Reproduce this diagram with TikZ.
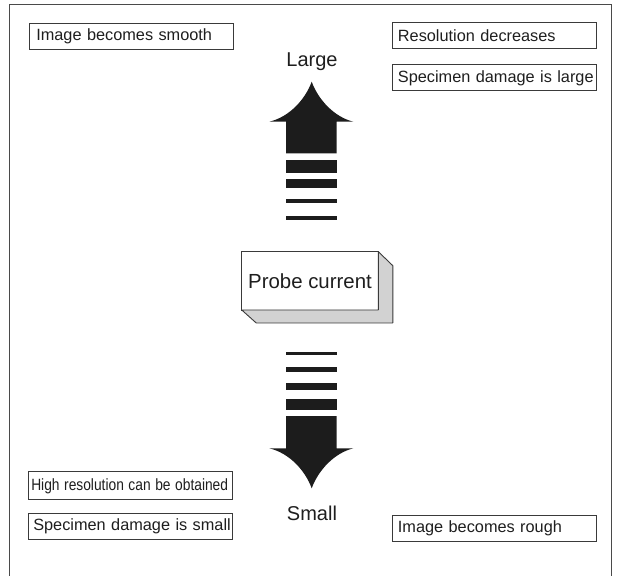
\documentclass[tikz,border=0pt]{standalone}
\usepackage{fontspec}
\setmainfont{Liberation Sans}
\definecolor{txtcol}{HTML}{1E1E1E}
\definecolor{boxcol}{HTML}{3A3A3A}
\definecolor{framecol}{HTML}{4A4A4A}
\definecolor{arrcol}{HTML}{1C1C1C}
\definecolor{shadecol}{HTML}{D2D2D2}
\tikzset{
  tbox/.style={draw=boxcol, line width=0.9pt, minimum width=204pt, minimum height=26pt,
    inner xsep=7pt, text width=190pt, align=left, outer sep=0pt,
    font=\fontsize{16.3}{18}\selectfont, text=txtcol},
  bigtext/.style={font=\fontsize{20}{22}\selectfont, text=txtcol, inner sep=0pt},
  probebox/.style={draw=boxcol, line width=0.9pt, fill=white, minimum width=136.6pt,
    minimum height=58.3pt, outer sep=0pt, font=\fontsize{20.4}{22}\selectfont, text=txtcol},
  shadebox/.style={draw=boxcol, line width=0.9pt, fill=shadecol, line join=round},
  arrowfill/.style={fill=arrcol, draw=none},
  framestyle/.style={draw=framecol, line width=1pt},
}
\begin{document}
\begin{tikzpicture}[x=1pt,y=-1pt]
\useasboundingbox (0,0) rectangle (619,576);
% outer frame (open at bottom)
\draw[framestyle] (9.3,577) -- (9.3,4.5) -- (611,4.5) -- (611,577);

% text boxes
\node[tbox] (smooth) at (131.3,36.7) {\mbox{Image becomes smooth}};
\node[tbox, inner xsep=6pt, text width=192.7pt] (resdec) at (494.3,35.8) {\mbox{Resolution decreases}};
\node[tbox, inner xsep=6pt, text width=192.7pt] (damlarge) at (494.3,77.8) {\mbox{Specimen damage is large}};
\node[tbox, inner xsep=2pt, text width=199pt, minimum height=28pt] (highres) at (130.8,485.8)
  {\mbox{\scalebox{0.845}[1]{High resolution can be obtained}}};
\node[tbox, inner xsep=4pt, text width=195pt] (damsmall) at (130.8,526) {\mbox{Specimen damage is small}};
\node[tbox, inner xsep=6pt, text width=192.7pt] (rough) at (494.3,528.3) {\mbox{Image becomes rough}};

% Large / Small labels
\node[bigtext, anchor=base] (large) at (312,66) {Large};
\node[bigtext, anchor=base] (small) at (312,520) {Small};

% probe current 3D box
\node[probebox] (probe) at (310,280.8) {Probe current};
\draw[shadebox] (probe.north east) -- ([shift={(14.5,14)}]probe.north east)
  -- ([shift={(14.5,13)}]probe.south east) -- ([shift={(14.5,13)}]probe.south west)
  -- (probe.south west) -- (probe.south east) -- cycle;

% up arrow
\coordinate (uptip) at (311.7,81.7);
\fill[arrowfill] (uptip) .. controls (305,100) and (289,117) .. (269.3,121.7)
  -- (286,121.7) -- (286,153.3) -- (336.7,153.3) -- (336.7,121.7) -- (353.3,121.7)
  .. controls (334.4,117) and (318.4,100) .. (uptip) -- cycle;
\fill[arrowfill] (286,160) rectangle (336.7,172.7);
\fill[arrowfill] (286,179.3) rectangle (336.7,187.7);
\fill[arrowfill] (286,199.3) rectangle (336.7,203.3);
\fill[arrowfill] (286,216) rectangle (336.7,220);

% down arrow
\coordinate (downtip) at (311.7,488.3);
\fill[arrowfill] (286,351.7) rectangle (336.7,355);
\fill[arrowfill] (286,366.7) rectangle (336.7,371.7);
\fill[arrowfill] (286,382.7) rectangle (336.7,390);
\fill[arrowfill] (286,399.3) rectangle (336.7,410);
\fill[arrowfill] (downtip) .. controls (305,470) and (289,453) .. (269.3,448.3)
  -- (286,448.3) -- (286,416) -- (336.7,416) -- (336.7,448.3) -- (353.3,448.3)
  .. controls (334.4,453) and (318.4,470) .. (downtip) -- cycle;
\end{tikzpicture}
\end{document}
